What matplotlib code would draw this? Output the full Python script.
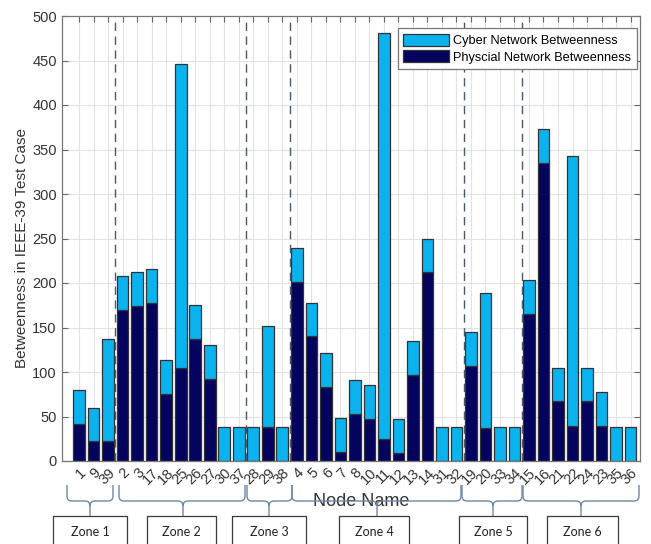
import matplotlib
matplotlib.use('Agg')
import matplotlib.pyplot as plt
from matplotlib.path import Path
from matplotlib.patches import PathPatch, Rectangle
from matplotlib.transforms import Affine2D
import numpy as np

# node order along the x axis, grouped by zone
nodes = ['1', '9', '39',
         '2', '3', '17', '18', '25', '26', '27', '30', '37',
         '28', '29', '38',
         '4', '5', '6', '7', '8', '10', '11', '12', '13', '14', '31', '32',
         '19', '20', '33', '34',
         '15', '16', '21', '22', '24', '23', '35', '36']
physical = [42, 22, 23,
            170, 174, 178, 75, 104, 137, 92, 0, 0,
            0, 38, 0,
            201, 140, 83, 10, 53, 47, 25, 9, 97, 212, 0, 0,
            107, 37, 0, 0,
            165, 335, 67, 39, 67, 39, 0, 0]
cyber = [38, 38, 114,
         38, 38, 38, 38, 342, 38, 38, 38, 38,
         38, 114, 38,
         38, 38, 38, 38, 38, 38, 456, 38, 38, 38, 38, 38,
         38, 152, 38, 38,
         38, 38, 38, 304, 38, 38, 38, 38]
zone_sizes = [3, 9, 3, 12, 4, 8]
zone_names = ['Zone 1', 'Zone 2', 'Zone 3', 'Zone 4', 'Zone 5', 'Zone 6']

W, H = 651, 544
fig = plt.figure(figsize=(W / 100, H / 100), dpi=100)
ax = fig.add_axes([61.7 / W, 1 - 461 / H, (640 - 61.7) / W, (461 - 16) / H])

light = '#0BB3EE'
dark = '#04045E'
x = np.arange(1, len(nodes) + 1)
ax.bar(x, physical, width=0.8, color=dark, edgecolor='#333333', linewidth=0.9,
       label='Physcial Network Betweenness', zorder=2)
ax.bar(x, cyber, width=0.8, bottom=physical, color=light, edgecolor='#333333',
       linewidth=0.9, label='Cyber Network Betweenness', zorder=2)

# zone separators
bounds = np.cumsum(zone_sizes)[:-1] + 0.5
for b in bounds:
    ax.axvline(b, color='#4a5868', linestyle=(0, (6, 4)), linewidth=1.0, zorder=3)

ax.set_xlim(-0.2, 39.65)
ax.set_ylim(0, 500)
ax.set_yticks(np.arange(0, 501, 50))
ax.set_xticks(x)
ax.set_xticklabels(nodes, rotation=45, ha='right', rotation_mode='anchor',
                   fontsize=10.5, color='#333333', family='Liberation Sans')
ax.tick_params(axis='y', labelsize=10.5, labelcolor='#333333')
ax.tick_params(direction='in', length=4, color='#666666', top=True, right=True)
for lbl in ax.get_yticklabels():
    lbl.set_family('Liberation Sans')
ax.grid(True, color='#e2e2e2', linewidth=0.8, zorder=0)
ax.set_axisbelow(True)
for s in ax.spines.values():
    s.set_color('#777777')
    s.set_linewidth(0.9)

ax.set_ylabel('Betweenness in IEEE-39 Test Case', fontsize=11, color='#333333',
              family='Liberation Sans')
ax.yaxis.set_label_coords(-0.069, 0.479)
ax.yaxis.label.set_va('center')
ax.set_xlabel('Node Name', fontsize=13, color='#333333', family='Liberation Sans')
ax.xaxis.set_label_coords(0.518, -0.092)
ax.xaxis.label.set_va('center')
ax.xaxis.label.set_zorder(5)

handles, labels = ax.get_legend_handles_labels()
leg = ax.legend(handles[::-1], labels[::-1], loc='upper right',
                bbox_to_anchor=(0.994, 0.972), borderaxespad=0,
                prop={'family': 'Liberation Sans', 'size': 9.2},
                fancybox=False, edgecolor='#777777', framealpha=1,
                handlelength=3.6, handleheight=1.1, handletextpad=0.3,
                borderpad=0.42, labelspacing=0.22)
leg.get_frame().set_linewidth(0.9)

# braces and zone boxes below the axis, in pixel coordinates
px = Affine2D().scale(1 / W, -1 / H).translate(0, 1) + fig.transFigure
brace_x = [(67, 113, 90), (119, 245, 183), (247, 292, 269),
           (292, 461, 377), (462, 522, 493), (523, 639, 581)]
box_x = [(53, 127), (147, 216), (232, 306), (339, 409), (459, 527), (547, 618)]
top, mid, stem = 485, 501, 516
r = 5
for (xl, xr, xm), (bl, br), name in zip(brace_x, box_x, zone_names):
    verts = [(xl, top), (xl, mid - r), (xl, mid), (xl + r, mid), (xm - r, mid),
             (xm, mid), (xm, mid + r), (xm, stem),
             (xm, mid + r), (xm, mid), (xm + r, mid), (xr - r, mid),
             (xr, mid), (xr, mid - r), (xr, top)]
    codes = [Path.MOVETO, Path.LINETO, Path.CURVE3, Path.CURVE3, Path.LINETO,
             Path.CURVE3, Path.CURVE3, Path.LINETO,
             Path.MOVETO, Path.CURVE3, Path.CURVE3, Path.LINETO,
             Path.CURVE3, Path.CURVE3, Path.LINETO]
    fig.patches.append(PathPatch(Path(verts, codes), transform=px, fill=False,
                                 edgecolor='#6a88a8', linewidth=1.0))
    fig.patches.append(Rectangle((bl, stem), br - bl, 40, transform=px, fill=False,
                                 edgecolor='#3a3a3a', linewidth=0.9))
    fig.text(((bl + br) / 2) / W, 1 - 532 / H, name, ha='center', va='center',
             fontsize=9, family='Lato', color='#222222')

fig.savefig('out.png', dpi=100)
